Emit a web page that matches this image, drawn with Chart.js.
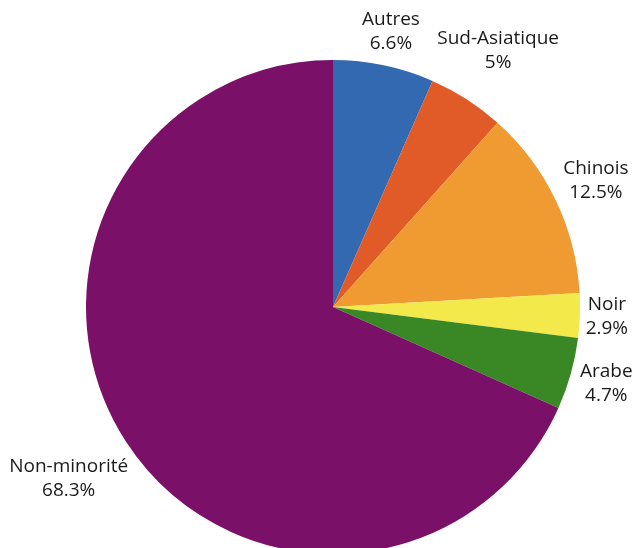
<!DOCTYPE html>
<html>
<head>
<meta charset="utf-8">
<script src="https://cdn.jsdelivr.net/npm/chart.js@4"></script>
<style>
    html, body { margin: 0; padding: 0; background: #fff; overflow: hidden; }
    #wrap { width: 641px; height: 560px; }
</style>
</head>
<body>
<div id="wrap"><canvas id="chart" width="641" height="560"></canvas></div>
<script>
const categories = ['Autres', 'Sud-Asiatique', 'Chinois', 'Noir', 'Arabe', 'Non-minorité'];
const shares = [6.6, 5, 12.5, 2.9, 4.7, 68.3];
const sliceColors = ['#3369b1', '#e05b27', '#f09a32', '#f3e94b', '#3a8825', '#7a1068'];

// labels outside each slice: name on top, percentage below
const outsideLabels = {
    id: 'outsideLabels',
    afterDatasetsDraw(chart) {
        let ctx = chart.ctx;
        let meta = chart.getDatasetMeta(0);
        ctx.save();
        ctx.font = '19px "Open Sans", sans-serif';
        ctx.fillStyle = '#1a1a1a';
        ctx.textAlign = 'center';
        ctx.textBaseline = 'middle';
        const lineH = 24;
        const gap = 5;

        meta.data.forEach((arc, i) => {
            let mid = (arc.startAngle + arc.endAngle) / 2;
            let cos = Math.cos(mid);
            let sin = Math.sin(mid);
            let lines = [categories[i], shares[i] + '%'];
            let w = Math.max(...lines.map(t => ctx.measureText(t).width));
            let h = lineH * lines.length;
            let d = arc.outerRadius + gap + Math.abs(cos) * w / 2 + Math.abs(sin) * h / 2;
            let cx = arc.x + cos * d;
            let cy = arc.y + sin * d;
            lines.forEach((t, k) => {
                ctx.fillText(t, cx, cy - h / 2 + lineH * (k + 0.5));
            });
        });
        ctx.restore();
    }
};

new Chart(document.getElementById('chart').getContext('2d'), {
    type: 'pie',
    data: {
        labels: categories,
        datasets: [{
            data: shares,
            backgroundColor: sliceColors,
            borderWidth: 0
        }]
    },
    options: {
        responsive: false,
        animation: false,
        layout: {
            padding: { left: 86, right: 61, top: 60, bottom: 6 }
        },
        plugins: {
            legend: { display: false },
            tooltip: { enabled: false }
        }
    },
    plugins: [outsideLabels]
});
</script>
</body>
</html>
